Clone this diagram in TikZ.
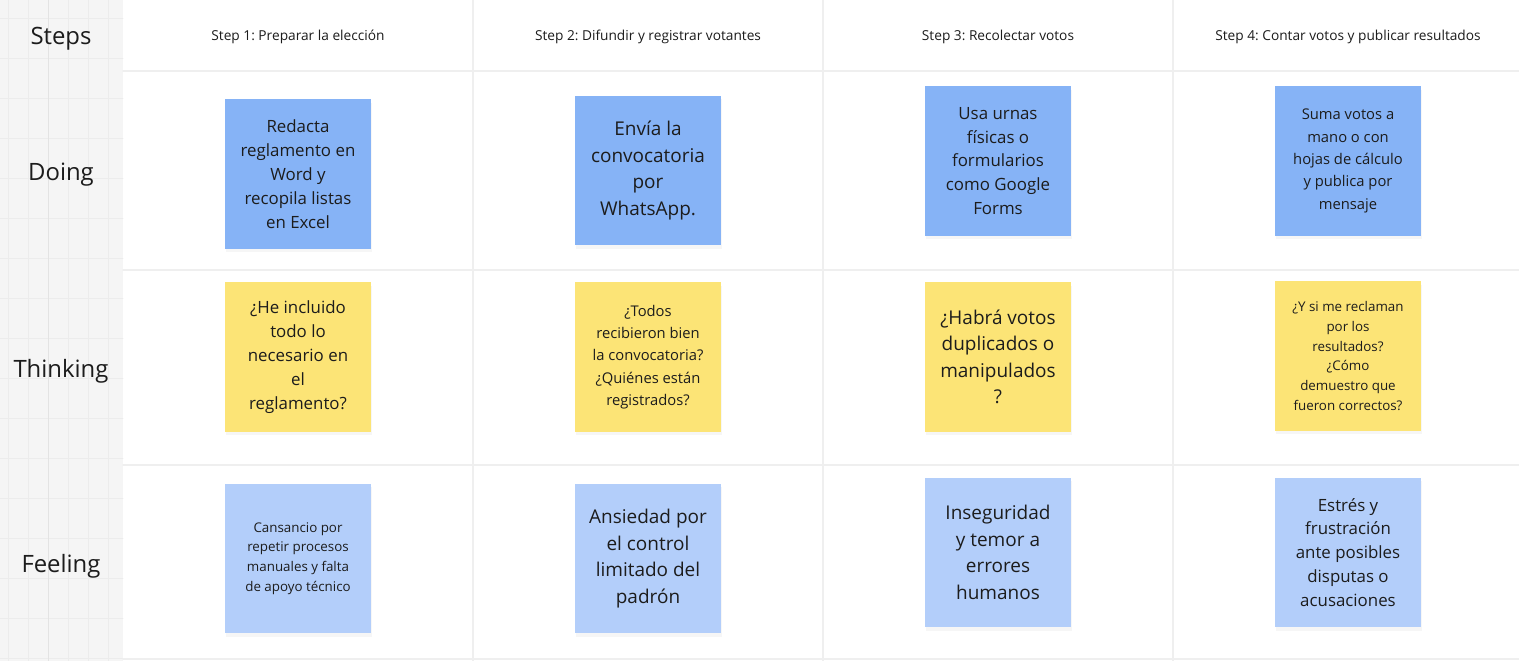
\documentclass[tikz,border=0pt]{standalone}
\usepackage{fontspec}
\setmainfont{Open Sans}
\usetikzlibrary{shadows}
\definecolor{ink}{HTML}{1C1C1C}
\definecolor{doingblue}{HTML}{86B3F6}
\definecolor{thinkyellow}{HTML}{FCE476}
\definecolor{feelblue}{HTML}{B3CEFA}
\definecolor{sidegrey}{HTML}{F5F5F5}
\definecolor{gridgrey}{HTML}{ECECEC}
\definecolor{griddark}{HTML}{E3E3E3}
\definecolor{sepgrey}{HTML}{EFEFEF}
\frenchspacing
\begin{document}
\begin{tikzpicture}[x=0.02cm, y=-0.02cm, line join=round, line cap=round,
	note/.style={minimum width=2.92cm, minimum height=3cm, inner sep=0pt, align=center, text=ink,
		drop shadow={opacity=0.07, shadow xshift=0.6pt, shadow yshift=-2pt}},
	doing/.style={note, fill=doingblue},
	thinking/.style={note, fill=thinkyellow},
	feeling/.style={note, fill=feelblue},
	fxl/.style={font=\fontsize{10.8}{15.1}\selectfont},
	fl/.style={font=\fontsize{9.6}{13.6}\selectfont},
	fm/.style={font=\fontsize{8.4}{12.7}\selectfont},
	fs/.style={font=\fontsize{7.6}{11.3}\selectfont},
	rowlabel/.style={text=ink, font=\fontsize{13.6}{16}\selectfont},
	steplabel/.style={text=ink, font=\fontsize{7.8}{9}\selectfont}]
	% --- Marco del tablero ---
	\def\W{1519} \def\H{661} \def\side{123}
	\useasboundingbox (0,0) rectangle (\W,\H);
	\fill[white] (0,0) rectangle (\W,\H);
	
	% --- Columna lateral con cuadrícula ---
	\fill[sidegrey] (0,0) rectangle (\side,\H);
	\foreach \gx in {8,28,...,108} \draw[gridgrey, line width=0.45pt] (\gx,0) -- (\gx,\H);
	\foreach \gy in {18,58,...,658} \draw[gridgrey, line width=0.45pt] (0,\gy) -- (\side,\gy);
	\draw[griddark, line width=0.45pt] (48,0) -- (48,\H);
	
	% --- Separadores de filas y columnas ---
	\foreach \cx in {473,823,1173} \draw[sepgrey, line width=0.8pt] (\cx,0) -- (\cx,\H);
	\foreach \ry in {71,270,465,659} \draw[sepgrey, line width=0.8pt] (\side,\ry) -- (\W,\ry);
	
	% --- Etiquetas de filas ---
	\node[rowlabel] (lsteps) at (61,39) {Steps};
	\node[rowlabel] (ldoing) at (61,175) {Doing};
	\node[rowlabel] (lthinking) at (61,371) {Thinking};
	\node[rowlabel] (lfeeling) at (61,566) {Feeling};
	
	% --- Encabezados de pasos ---
	\node[steplabel] (s1) at (298,37) {Step 1: Preparar la elección};
	\node[steplabel] (s2) at (648,37) {Step 2: Difundir y registrar votantes};
	\node[steplabel] (s3) at (998,37) {Step 3: Recolectar votos};
	\node[steplabel] (s4) at (1348,37) {Step 4: Contar votos y publicar resultados};
	
	% --- Doing ---
	\node[doing, fl] (d1) at (298,174) {Redacta\\reglamento en\\Word y\\recopila listas\\en Excel};
	\node[doing, fxl] (d2) at (648,170.5) {Envía la\\convocatoria\\por\\WhatsApp.};
	\node[doing, fl] (d3) at (998,161) {Usa urnas\\físicas o\\formularios\\como Google\\Forms};
	\node[doing, fm] (d4) at (1348,161) {Suma votos a\\mano o con\\hojas de cálculo\\y publica por\\mensaje};
	
	% --- Thinking ---
	\node[thinking, fl] (t1) at (298,357) {¿He incluido\\todo lo\\necesario en\\el\\reglamento?};
	\node[thinking, fm] (t2) at (648,357) {¿Todos\\recibieron bien\\la convocatoria?\\¿Quiénes están\\registrados?};
	\node[thinking, fxl] (t3) at (998,357) {¿Habrá votos\\duplicados o\\manipulados\\?};
	\node[thinking, fs] (t4) at (1348,356) {¿Y si me reclaman\\por los\\resultados?\\¿Cómo\\demuestro que\\fueron correctos?};
	
	% --- Feeling ---
	\node[feeling, fs] (f1) at (298,558.5) {Cansancio por\\repetir procesos\\manuales y falta\\de apoyo técnico};
	\node[feeling, fxl] (f2) at (648,558.5) {Ansiedad por\\el control\\limitado del\\padrón};
	\node[feeling, fxl] (f3) at (998,552.5) {Inseguridad\\y temor a\\errores\\humanos};
	\node[feeling, fl] (f4) at (1348,552.5) {Estrés y\\frustración\\ante posibles\\disputas o\\acusaciones};
\end{tikzpicture}
\end{document}
